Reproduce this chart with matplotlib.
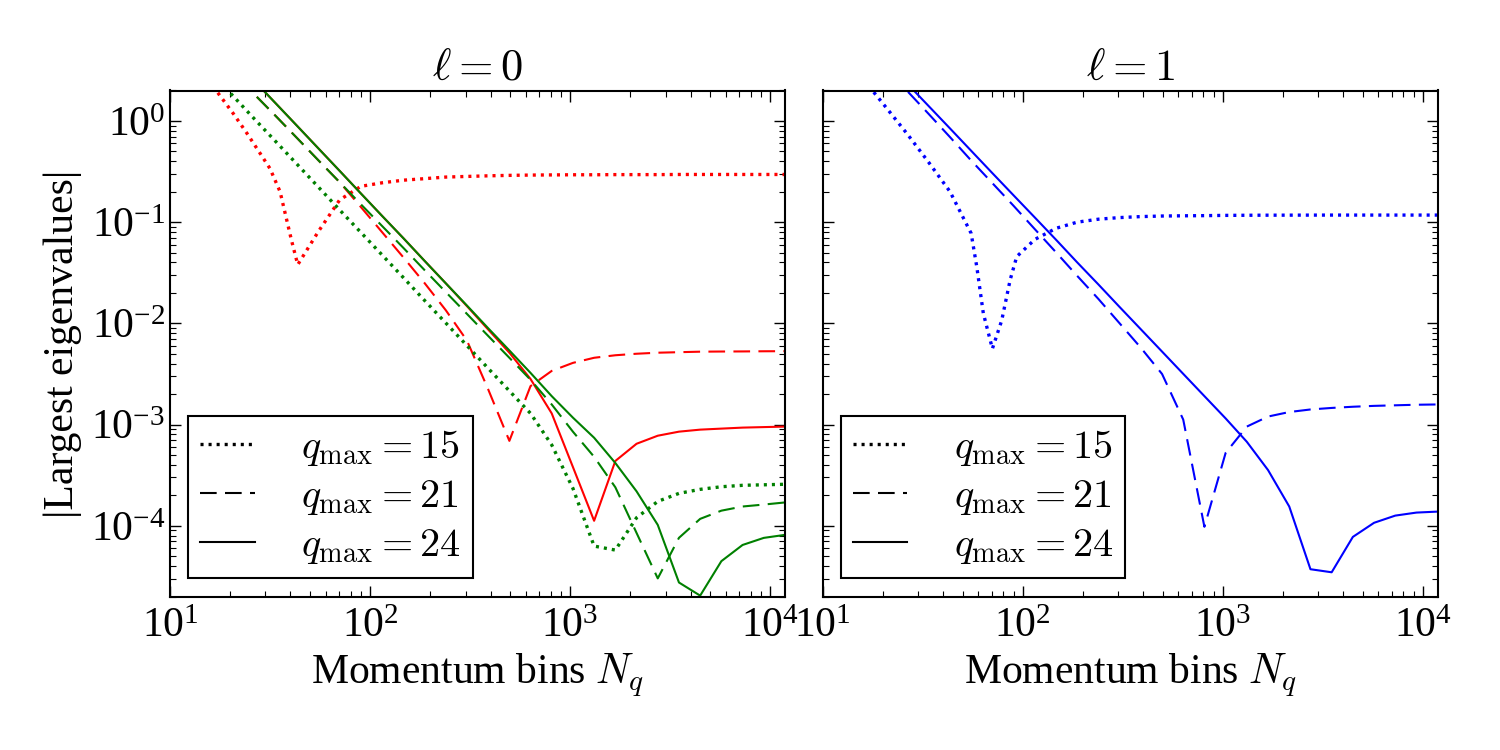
import matplotlib
matplotlib.use("Agg")
import matplotlib.pyplot as plt
from matplotlib.lines import Line2D

plt.rcParams['font.family'] = 'serif'
plt.rcParams['font.serif'] = ['Liberation Serif', 'DejaVu Serif']
plt.rcParams['mathtext.fontset'] = 'cm'
plt.rcParams['lines.scale_dashes'] = False
for a in ('xtick', 'ytick'):
    plt.rcParams[a + '.direction'] = 'in'
    plt.rcParams[a + '.major.size'] = 8
    plt.rcParams[a + '.minor.size'] = 4
    plt.rcParams[a + '.major.width'] = 1.0
    plt.rcParams[a + '.minor.width'] = 0.8
    plt.rcParams[a + '.labelsize'] = 30
plt.rcParams['xtick.top'] = True
plt.rcParams['ytick.right'] = True
plt.rcParams['axes.linewidth'] = 1.5

# Momentum bins N_q (sample points)
Nq = [10, 12.8, 16.3, 20.8, 26.5, 33.9, 43.3, 55.2, 70.5, 90.0,
      115, 147, 187, 239, 305, 389, 497, 634, 809, 1033,
      1318, 1683, 2148, 2742, 3500, 4467, 5702, 7278, 9290, 11860]

# l = 0, red  (q=15 read at a few extra points around its dip)
Nq_l0_red_q15 = [10, 12.8, 16.3, 20.8, 24.2, 28.2, 31.6, 35.5, 40.5, 43.5,
                 55.2, 70.5, 90.0, 115, 147, 187, 239, 305, 389, 497,
                 634, 809, 1033, 1318, 1683, 2148, 2742, 3500, 4467, 5702,
                 7278, 9290, 11860]
l0_red_q15 = [8.3, 4.27, 2.24, 1.17, 0.759, 0.479, 0.339, 0.200, 6.6e-2, 3.8e-2,
              8.1e-2, 0.166, 0.226, 0.245, 0.260, 0.269, 0.279, 0.283, 0.287, 0.290,
              0.292, 0.293, 0.294, 0.294, 0.295, 0.295, 0.295, 0.296, 0.296, 0.296,
              0.296, 0.296, 0.296]
l0_red_q21 = [13.4, 8.15, 4.95, 3.01, 1.82, 1.11, 0.673, 0.408, 0.248, 0.141,
              7.94e-2, 4.47e-2, 2.51e-2, 1.35e-2, 6.76e-3, 2.24e-3, 6.9e-4, 2.40e-3, 3.39e-3, 4.07e-3,
              4.57e-3, 4.84e-3, 5.01e-3, 5.13e-3, 5.19e-3, 5.25e-3, 5.27e-3, 5.28e-3, 5.30e-3, 5.31e-3]
l0_red_q24 = [19.1, 11.4, 6.85, 4.12, 2.47, 1.48, 0.889, 0.535, 0.321, 0.192,
              0.115, 6.92e-2, 4.16e-2, 2.49e-2, 1.48e-2, 8.71e-3, 5.13e-3, 2.82e-3, 1.29e-3, 3.80e-4,
              1.12e-4, 4.37e-4, 6.46e-4, 7.76e-4, 8.51e-4, 8.91e-4, 9.12e-4, 9.33e-4, 9.44e-4, 9.55e-4]
# l = 0, green
l0_green_q15 = [8.1, 4.88, 2.91, 1.74, 1.04, 0.621, 0.371, 0.222, 0.132, 7.91e-2,
                4.73e-2, 2.82e-2, 1.69e-2, 1.01e-2, 6.03e-3, 3.60e-3, 2.15e-3, 1.29e-3, 6.3e-4, 2.34e-4,
                6.3e-5, 5.75e-5, 1.20e-4, 1.74e-4, 2.09e-4, 2.29e-4, 2.43e-4, 2.51e-4, 2.54e-4, 2.57e-4]
l0_green_q21 = [13.4, 8.15, 4.95, 3.01, 1.82, 1.11, 0.673, 0.408, 0.248, 0.150,
                9.14e-2, 5.55e-2, 3.37e-2, 2.04e-2, 1.24e-2, 7.53e-3, 4.57e-3, 2.77e-3, 1.58e-3, 8.5e-4,
                4.8e-4, 2.40e-4, 8.5e-5, 3.02e-5, 7.6e-5, 1.17e-4, 1.41e-4, 1.55e-4, 1.62e-4, 1.70e-4]
l0_green_q24 = [19.1, 11.4, 6.85, 4.12, 2.47, 1.48, 0.889, 0.535, 0.321, 0.192,
                0.115, 6.92e-2, 4.16e-2, 2.49e-2, 1.50e-2, 8.97e-3, 5.40e-3, 3.24e-3, 1.91e-3, 1.17e-3,
                7.41e-4, 4.17e-4, 2.19e-4, 1.02e-4, 2.75e-5, 2.04e-5, 4.47e-5, 6.46e-5, 7.59e-5, 8.13e-5]
# l = 1, blue  (q=15 read at a few extra points around its dip)
Nq_l1_blue_q15 = [10, 12.8, 16.3, 20.8, 26.5, 33.9, 43.3, 55.2, 58.9, 63.5,
                  70.5, 78.5, 86.5, 93.3, 115, 147, 187, 239, 305, 389,
                  497, 634, 809, 1033, 1318, 1683, 2148, 2742, 3500, 4467,
                  5702, 7278, 9290, 11860]
l1_blue_q15 = [7.94, 4.47, 2.45, 1.35, 0.741, 0.389, 0.200, 7.76e-2, 3.63e-2, 1.26e-2,
               5.62e-3, 1.07e-2, 2.69e-2, 4.57e-2, 6.76e-2, 8.71e-2, 0.100, 0.107, 0.111, 0.1135,
               0.115, 0.1156, 0.116, 0.1167, 0.117, 0.1172, 0.1173, 0.1174, 0.1175, 0.1175,
               0.1175, 0.1175, 0.1175, 0.1175]
l1_blue_q21 = [15.5, 9.33, 5.62, 3.31, 1.97, 1.17, 0.692, 0.407, 0.243, 0.145,
               8.51e-2, 5.01e-2, 2.95e-2, 1.74e-2, 1.00e-2, 5.75e-3, 3.16e-3, 1.12e-3, 9.77e-5, 5.25e-4,
               9.55e-4, 1.20e-3, 1.33e-3, 1.41e-3, 1.46e-3, 1.50e-3, 1.53e-3, 1.55e-3, 1.57e-3, 1.58e-3]
l1_blue_q24 = [17.7, 10.7, 6.43, 3.86, 2.33, 1.40, 0.843, 0.508, 0.305, 0.184,
               0.111, 6.67e-2, 4.01e-2, 2.42e-2, 1.45e-2, 8.75e-3, 5.26e-3, 3.17e-3, 1.91e-3, 1.15e-3,
               6.76e-4, 3.55e-4, 1.55e-4, 3.72e-5, 3.47e-5, 7.76e-5, 1.07e-4, 1.26e-4, 1.35e-4, 1.38e-4]

qmax_labels = [r'$q_{\rm max} = 15$', r'$q_{\rm max} = 21$', r'$q_{\rm max} = 24$']
titles = [r'$\ell = 0$', r'$\ell = 1$']

DOT = dict(linestyle=(0, (2.2, 3.6)), linewidth=2.4)
DASH = dict(linestyle=(0, (12, 6)), linewidth=1.5)
SOLID = dict(linestyle='-', linewidth=1.5)
styles = [DOT, DASH, SOLID]

fig = plt.figure(figsize=(15, 7.5), dpi=100)
ax0 = fig.add_axes([170/1500, 1 - 596.5/750, 615/1500, 506/750])
ax1 = fig.add_axes([822.7/1500, 1 - 596.5/750, 615/1500, 506/750])

red = (1, 0, 0)
green = (0, 0.5, 0)
blue = (0, 0, 1)

ax0.plot(Nq_l0_red_q15, l0_red_q15, color=red, **DOT)
ax0.plot(Nq, l0_red_q21, color=red, **DASH)
ax0.plot(Nq, l0_red_q24, color=red, **SOLID)
ax0.plot(Nq, l0_green_q15, color=green, **DOT)
ax0.plot(Nq, l0_green_q21, color=green, **DASH)
ax0.plot(Nq, l0_green_q24, color=green, **SOLID)
ax1.plot(Nq_l1_blue_q15, l1_blue_q15, color=blue, **DOT)
ax1.plot(Nq, l1_blue_q21, color=blue, **DASH)
ax1.plot(Nq, l1_blue_q24, color=blue, **SOLID)

for ax, t in zip([ax0, ax1], titles):
    ax.set_xscale('log')
    ax.set_yscale('log')
    ax.set_xlim(10, Nq[-1])
    ax.set_ylim(2e-5, 2)
    ax.set_title(t, fontsize=32, pad=8)
    ax.set_xlabel(r'Momentum bins $N_q$', fontsize=30, labelpad=4)
    ax.tick_params(axis='x', pad=8)
    handles = [Line2D([], [], color='k', **st) for st in styles]
    leg = ax.legend(handles, qmax_labels, loc='lower left', fontsize=29,
                    fancybox=False, framealpha=1, edgecolor='k',
                    borderaxespad=0.45, handlelength=1.35, handletextpad=1.15,
                    labelspacing=0.25, borderpad=0.3)
    leg.get_frame().set_linewidth(1.5)

ax0.set_ylabel('|Largest eigenvalues|', fontsize=30, labelpad=6)
ax1.tick_params(axis='y', labelleft=False)

fig.savefig('out.png', dpi=100, facecolor='white')
